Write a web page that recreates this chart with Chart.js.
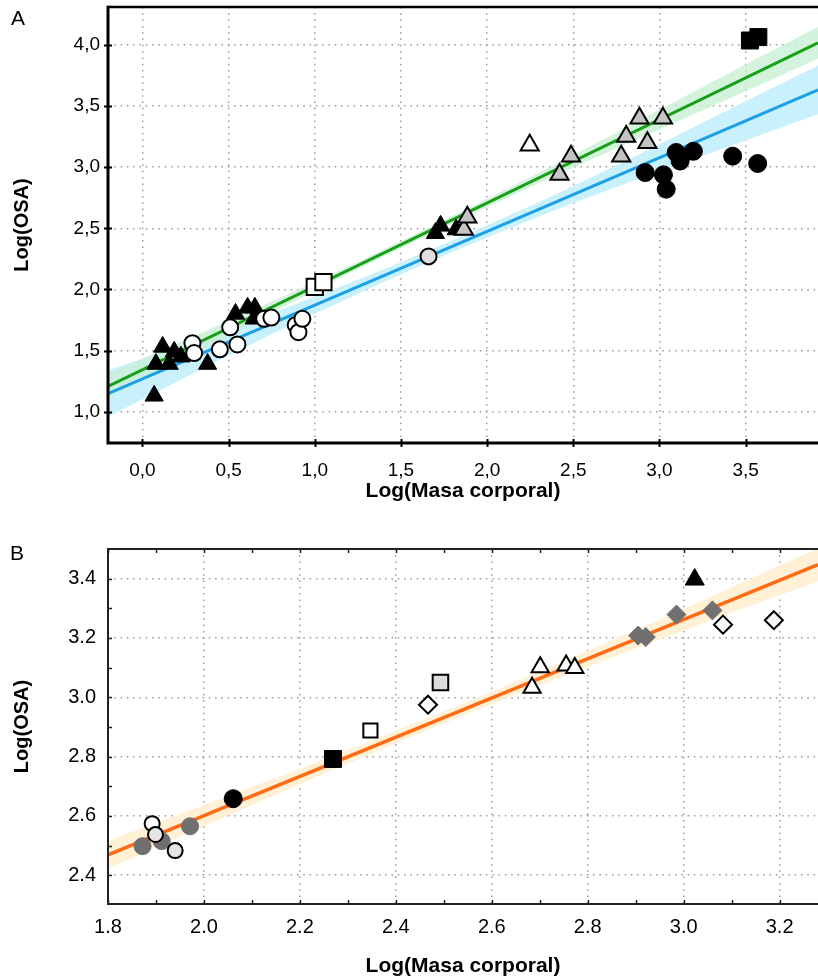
<!DOCTYPE html>
<html><head><meta charset="utf-8">
<script src="https://cdn.jsdelivr.net/npm/chart.js@4.4.1/dist/chart.umd.min.js"></script>
<style>
html,body{margin:0;padding:0;background:#fff;}
#wrap{position:relative;width:818px;height:978px;overflow:hidden;background:#fff;}
canvas{position:absolute;left:0;}
#ca{top:0;} #cb{top:520px;}
.lbl{position:absolute;font-family:'Liberation Sans',Arial,sans-serif;font-size:21px;line-height:21px;color:#000;}
</style></head><body>
<div id="wrap">
<canvas id="ca" width="818" height="512"></canvas>
<canvas id="cb" width="818" height="458"></canvas>
<div class="lbl" style="left:11px;top:7px">A</div>
<div class="lbl" style="left:10px;top:542px">B</div>
</div>
<script>
// ================= Panel A data =================
const aXTicks = [0.0, 0.5, 1.0, 1.5, 2.0, 2.5, 3.0, 3.5];
const aYTicks = [1.0, 1.5, 2.0, 2.5, 3.0, 3.5, 4.0];

const aBlackTriX = [0.068, 0.078, 0.117, 0.155, 0.184, 0.223, 0.378, 0.54, 0.61, 0.652, 0.648, 1.70, 1.73, 1.82];
const aBlackTriY = [1.13, 1.39, 1.53, 1.39, 1.49, 1.45, 1.39, 1.80, 1.85, 1.85, 1.76, 2.46, 2.52, 2.49];
const aWhiteCircX = [0.29, 0.30, 0.449, 0.509, 0.551, 0.706, 0.748, 0.889, 0.905, 0.928];
const aWhiteCircY = [1.56, 1.48, 1.51, 1.69, 1.55, 1.76, 1.77, 1.71, 1.65, 1.76];
const aGrayCircX = [1.66];
const aGrayCircY = [2.27];
const aWhiteSqX = [1.00, 1.05];
const aWhiteSqY = [2.02, 2.06];
const aGrayTriX = [1.865, 1.885, 2.42, 2.487, 2.778, 2.807, 2.884, 2.93, 3.02];
const aGrayTriY = [2.49, 2.59, 2.94, 3.09, 3.09, 3.25, 3.40, 3.20, 3.40];
const aWhiteTriX = [2.247];
const aWhiteTriY = [3.18];
const aBlackCircX = [2.917, 3.023, 3.039, 3.097, 3.12, 3.197, 3.425, 3.57];
const aBlackCircY = [2.956, 2.937, 2.82, 3.12, 3.05, 3.13, 3.09, 3.03];
const aBlackSqX = [3.525, 3.574];
const aBlackSqY = [4.036, 4.064];

const aGreenLineX = [-0.2, 3.92];
const aGreenLineY = [1.207, 4.016];
const aBlueLineX = [-0.2, 3.92];
const aBlueLineY = [1.147, 3.632];

const aBandX = [-0.2, 0.5, 1.0, 1.5, 2.0, 2.5, 3.0, 3.5, 3.92];
const aGreenUpper = [1.307, 1.744, 2.060, 2.396, 2.742, 3.098, 3.469, 3.840, 4.146];
const aGreenLower = [1.107, 1.624, 1.990, 2.336, 2.672, 2.998, 3.309, 3.620, 3.886];
const aBlueUpper = [1.337, 1.680, 1.941, 2.223, 2.524, 2.846, 3.187, 3.539, 3.832];
const aBlueLower = [0.957, 1.460, 1.801, 2.123, 2.424, 2.706, 2.967, 3.219, 3.432];

// ================= Panel B data =================
const bXTicks = [1.8, 2.0, 2.2, 2.4, 2.6, 2.8, 3.0, 3.2];
const bXMinor = [1.9, 2.1, 2.3, 2.5, 2.7, 2.9, 3.1];
const bYTicks = [2.4, 2.6, 2.8, 3.0, 3.2, 3.4];
const bYMinor = [2.5, 2.7, 2.9, 3.1, 3.3];

const bGrayCircX = [1.872, 1.912, 1.971];
const bGrayCircY = [2.498, 2.515, 2.565];
const bWhiteCircX = [1.892];
const bWhiteCircY = [2.574];
const bLightCircX = [1.899, 1.94];
const bLightCircY = [2.537, 2.483];
const bBlackCircX = [2.061];
const bBlackCircY = [2.658];
const bBlackSqX = [2.269];
const bBlackSqY = [2.792];
const bWhiteSqX = [2.347];
const bWhiteSqY = [2.888];
const bLightSqX = [2.493];
const bLightSqY = [3.05];
const bWhiteDiaX = [2.467, 3.082, 3.188];
const bWhiteDiaY = [2.975, 3.245, 3.26];
const bWhiteTriX = [2.684, 2.701, 2.755, 2.773];
const bWhiteTriY = [3.032, 3.101, 3.107, 3.099];
const bGrayDiaX = [2.905, 2.921, 2.985, 3.06];
const bGrayDiaY = [3.208, 3.203, 3.279, 3.293];
const bBlackTriX = [3.023];
const bBlackTriY = [3.397];

const bLineX = [1.8, 3.28];
const bLineY = [2.469, 3.447];
const bBandX = [1.8, 2.0, 2.2, 2.4, 2.6, 2.8, 3.0, 3.28];
const bBandUpper = [2.516, 2.636, 2.759, 2.887, 3.019, 3.157, 3.298, 3.503];
const bBandLower = [2.422, 2.566, 2.707, 2.845, 2.977, 3.103, 3.226, 3.391];

// ================= helpers =================
Chart.defaults.font.family = "'Liberation Sans', Arial, sans-serif";
Chart.defaults.color = '#000';
const pts = (xs, ys) => xs.map((x, i) => ({x: x, y: ys[i]}));

function scatterSet(xs, ys, style, r, fill, stroke, bw, order) {
  return {type: 'scatter', data: pts(xs, ys), pointStyle: style, pointRadius: r,
    backgroundColor: fill, borderColor: stroke, borderWidth: bw, order: order};
}
function lineSet(xs, ys, color, w, order) {
  return {type: 'line', data: pts(xs, ys), borderColor: color, borderWidth: w,
    pointRadius: 0, fill: false, tension: 0, order: order};
}
function bandSets(xs, up, lo, color, order) {
  return [
    {type: 'line', data: pts(xs, up), borderWidth: 0, borderColor: 'rgba(0,0,0,0)', backgroundColor: color,
      pointRadius: 0, fill: '+1', tension: 0.3, order: order},
    {type: 'line', data: pts(xs, lo), borderWidth: 0, borderColor: 'rgba(0,0,0,0)', backgroundColor: color,
      pointRadius: 0, fill: false, tension: 0.3, order: order}
  ];
}

const framePlugin = {
  id: 'frame',
  afterDatasetsDraw(chart, args, o) {
    const ctx = chart.ctx, ca = chart.chartArea, x = chart.scales.x, y = chart.scales.y;
    ctx.save();
    ctx.strokeStyle = o.color;
    ctx.lineCap = 'butt';
    ctx.lineWidth = o.tickWidth;
    ctx.beginPath();
    (o.xTicks || []).forEach(v => {
      const px = Math.round(x.getPixelForValue(v)) + 0.5;
      ctx.moveTo(px, ca.bottom + o.tickOut); ctx.lineTo(px, ca.bottom - o.tickIn);
      if (o.topTicks) { ctx.moveTo(px, ca.top); ctx.lineTo(px, ca.top + o.tickIn); }
    });
    (o.yTicks || []).forEach(v => {
      const py = Math.round(y.getPixelForValue(v)) + 0.5;
      ctx.moveTo(ca.left - o.tickOut, py); ctx.lineTo(ca.left + o.tickIn, py);
    });
    ctx.stroke();
    ctx.lineWidth = o.topWidth;
    ctx.beginPath();
    ctx.moveTo(ca.left, ca.top); ctx.lineTo(ca.right + 5, ca.top);
    ctx.stroke();
    ctx.lineWidth = o.axisWidth;
    ctx.beginPath();
    ctx.moveTo(ca.left, ca.top - o.topWidth / 2); ctx.lineTo(ca.left, ca.bottom); ctx.lineTo(ca.right + 5, ca.bottom);
    ctx.stroke();
    ctx.restore();
  }
};

function makeScales(cfg) {
  return {
    x: {
      type: 'linear', min: cfg.xMin, max: cfg.xMax,
      afterBuildTicks: s => { s.ticks = cfg.xTicks.map(v => ({value: v})); },
      afterFit: s => { s.height = cfg.xHeight; s.paddingLeft = 0; s.paddingRight = 0; },
      grid: {color: '#9a9a9a', lineWidth: 1.5, drawTicks: false},
      border: {display: false, dash: [1.5, 4.8]},
      ticks: {padding: cfg.xTickPad, font: {size: cfg.tickSize}, color: '#000', maxRotation: 0, autoSkip: false,
        callback: v => cfg.fmt(v)},
      title: {display: true, text: 'Log(Masa corporal)', color: '#000',
        font: {size: 21, weight: 'bold', lineHeight: cfg.titleLH}, padding: {top: 0, bottom: cfg.xTitlePad}}
    },
    y: {
      type: 'linear', min: cfg.yMin, max: cfg.yMax,
      afterBuildTicks: s => { s.ticks = cfg.yTicks.map(v => ({value: v})); },
      afterFit: s => { s.width = 108; s.paddingTop = 0; s.paddingBottom = 0; },
      grid: {color: '#9a9a9a', lineWidth: 1.5, drawTicks: false},
      border: {display: false, dash: [1.5, 4.8]},
      ticks: {padding: cfg.yTickPad, font: {size: cfg.tickSize}, color: '#000', autoSkip: false,
        callback: v => cfg.fmt(v)},
      title: {display: true, text: 'Log(OSA)', color: '#000',
        font: {size: 20, weight: 'bold'}, padding: {top: 10, bottom: 0}}
    }
  };
}

const commaFmt = v => v.toFixed(1).replace('.', ',');
const dotFmt = v => v.toFixed(1);

// ================= Chart A =================
const datasetsA = [
  scatterSet(aBlackSqX, aBlackSqY, 'rect', 12, '#000', '#000', 1, 0),
  scatterSet(aBlackCircX, aBlackCircY, 'circle', 9, '#000', '#000', 1, 0),
  scatterSet(aGrayTriX, aGrayTriY, 'triangle', 10.5, '#c4c4c4', '#000', 2, 0),
  scatterSet(aWhiteTriX, aWhiteTriY, 'triangle', 10.5, '#ffffff', '#000', 2, 0),
  scatterSet(aGrayCircX, aGrayCircY, 'circle', 8, '#dedede', '#000', 2, 0),
  scatterSet(aWhiteSqX, aWhiteSqY, 'rect', 11.5, '#ffffff', '#000', 2, 0),
  scatterSet(aWhiteCircX, aWhiteCircY, 'circle', 8, '#ffffff', '#000', 2, 0),
  scatterSet(aBlackTriX, aBlackTriY, 'triangle', 10.5, '#000', '#000', 1, 0),
  lineSet(aGreenLineX, aGreenLineY, '#17a017', 3, 5),
  lineSet(aBlueLineX, aBlueLineY, '#1b9fe8', 3, 5),
  ...bandSets(aBandX, aGreenUpper, aGreenLower, 'rgba(200,240,212,0.8)', 10),
  ...bandSets(aBandX, aBlueUpper, aBlueLower, '#c9f1fc', 11)
];

new Chart(document.getElementById('ca'), {
  type: 'scatter',
  data: {datasets: datasetsA},
  plugins: [framePlugin],
  options: {
    responsive: false, animation: false, devicePixelRatio: 1, events: [],
    layout: {autoPadding: false, padding: {top: 7, left: 0, right: 0, bottom: 0}},
    plugins: {legend: {display: false}, tooltip: {enabled: false},
      frame: {color: '#000', tickWidth: 2, tickIn: 4, tickOut: 4, axisWidth: 3, topWidth: 2.5,
        xTicks: aXTicks, yTicks: aYTicks, topTicks: false}},
    scales: makeScales({xMin: -0.2, xMax: 3.92, yMin: 0.744, yMax: 4.31, xTicks: aXTicks, yTicks: aYTicks,
      xHeight: 69, xTickPad: 16, yTickPad: 8, tickSize: 19, titleLH: 1.2, xTitlePad: 8, fmt: commaFmt})
  }
});

// ================= Chart B =================
const datasetsB = [
  scatterSet(bBlackTriX, bBlackTriY, 'triangle', 11, '#000', '#000', 1, 0),
  scatterSet(bWhiteDiaX, bWhiteDiaY, 'rectRot', 9, '#f7f7f7', '#000', 2, 0),
  scatterSet(bGrayDiaX, bGrayDiaY, 'rectRot', 9.5, '#707070', '#707070', 1, 0),
  scatterSet(bWhiteTriX, bWhiteTriY, 'triangle', 10, '#ffffff', '#000', 2, 0),
  scatterSet(bLightSqX, bLightSqY, 'rect', 11, '#dcdcdc', '#000', 2, 0),
  scatterSet(bWhiteSqX, bWhiteSqY, 'rect', 10, '#ffffff', '#000', 2, 0),
  scatterSet(bBlackSqX, bBlackSqY, 'rect', 12, '#000', '#000', 1, 0),
  scatterSet(bBlackCircX, bBlackCircY, 'circle', 9, '#000', '#000', 1, 0),
  scatterSet(bLightCircX, bLightCircY, 'circle', 7.5, '#e4e4e4', '#000', 2, 0),
  scatterSet(bWhiteCircX, bWhiteCircY, 'circle', 7.5, '#ffffff', '#000', 2, 0),
  scatterSet(bGrayCircX, bGrayCircY, 'circle', 8.5, '#707070', '#707070', 1, 0),
  lineSet(bLineX, bLineY, '#ff6a12', 3.5, 5),
  ...bandSets(bBandX, bBandUpper, bBandLower, '#fff0d6', 10)
];

new Chart(document.getElementById('cb'), {
  type: 'scatter',
  data: {datasets: datasetsB},
  plugins: [framePlugin],
  options: {
    responsive: false, animation: false, devicePixelRatio: 1, events: [],
    layout: {autoPadding: false, padding: {top: 29, left: 0, right: 0, bottom: 0}},
    plugins: {legend: {display: false}, tooltip: {enabled: false},
      frame: {color: '#222', tickWidth: 1.5, tickIn: 4, tickOut: 0, axisWidth: 2, topWidth: 2,
        xTicks: bXTicks.concat(bXMinor), yTicks: bYTicks.concat(bYMinor), topTicks: true}},
    scales: makeScales({xMin: 1.8, xMax: 3.28, yMin: 2.303, yMax: 3.5, xTicks: bXTicks, yTicks: bYTicks,
      xHeight: 74, xTickPad: 11, yTickPad: 12, tickSize: 20, titleLH: 1.0, xTitlePad: 1.5, fmt: dotFmt})
  }
});
</script>
</body></html>
